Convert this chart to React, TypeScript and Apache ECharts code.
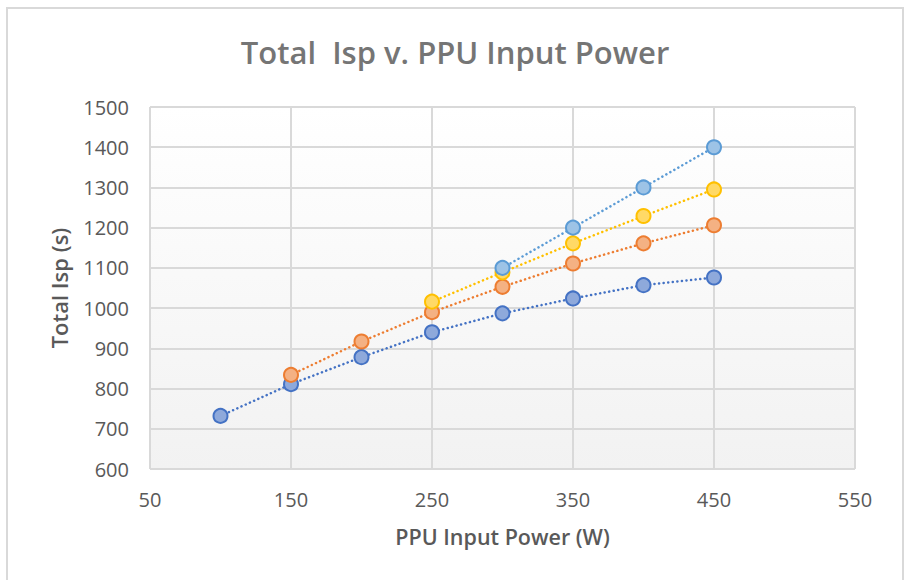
import React, { useEffect, useRef } from "react";
import * as echarts from "echarts";

const xValues = [100, 150, 200, 250, 300, 350, 400, 450];
const seriesNames = ["Series 1", "Series 2", "Series 3", "Series 4"];
// values aligned with xValues (null = no point)
const series1 = [732, 811, 878, 940, 987, 1024, 1057, 1076];
const series2 = [null, 834, 917, 990, 1053, 1111, 1161, 1206];
const series3 = [null, null, null, 1016, 1089, 1161, 1229, 1295];
const series4 = [null, null, null, null, 1100, 1200, 1300, 1400];
const lineColors = ["#4472C4", "#ED7D31", "#FFC000", "#5B9BD5"];
const fillColors = ["#8EA9DB", "#F4B183", "#FFD966", "#9DC3E6"];

const FONT = "'Open Sans', sans-serif";

export default function App() {
  const ref = useRef<HTMLDivElement>(null);
  useEffect(() => {
    if (!ref.current) return;
    const chart = echarts.init(ref.current, null, { renderer: "svg" });
    const all = [series1, series2, series3, series4];
    chart.setOption({
      animation: false,
      backgroundColor: "#ffffff",
      title: {
        text: "Total  Isp v. PPU Input Power",
        left: "center",
        top: 31,
        textStyle: { fontFamily: FONT, fontSize: 31, fontWeight: 600, color: "#757575" },
      },
      graphic: [
        {
          type: "rect",
          shape: { x: 7, y: 8, width: 896, height: 590 },
          style: { fill: "none", stroke: "#d9d9d9", lineWidth: 2 },
          silent: true,
        },
      ],
      grid: {
        left: 150,
        right: 55,
        top: 107,
        bottom: 111,
        show: true,
        borderWidth: 0,
        backgroundColor: new echarts.graphic.LinearGradient(0, 0, 0, 1, [
          { offset: 0, color: "#ffffff" },
          { offset: 1, color: "#f2f2f2" },
        ]),
      },
      xAxis: {
        type: "value",
        min: 50,
        max: 550,
        interval: 100,
        name: "PPU Input Power (W)",
        nameLocation: "middle",
        nameGap: 56,
        nameTextStyle: { fontFamily: FONT, fontSize: 21.5, fontWeight: 600, color: "#595959" },
        axisLine: { show: false },
        axisTick: { show: false },
        axisLabel: { fontFamily: FONT, fontSize: 20, color: "#595959", margin: 20, formatter: (v: number) => String(v) },
        splitLine: { show: true, lineStyle: { color: "#d9d9d9", width: 2 } },
      },
      yAxis: {
        type: "value",
        min: 600,
        max: 1500,
        interval: 100,
        name: "Total Isp (s)",
        nameLocation: "middle",
        nameGap: 80,
        nameTextStyle: { fontFamily: FONT, fontSize: 22, fontWeight: 600, color: "#595959" },
        axisLine: { show: false },
        axisTick: { show: false },
        axisLabel: { fontFamily: FONT, fontSize: 20, color: "#595959", margin: 21, formatter: (v: number) => String(v) },
        splitLine: { show: true, lineStyle: { color: "#d9d9d9", width: 2 } },
      },
      series: all.map((vals, i) => ({
        name: seriesNames[i],
        type: "line",
        data: xValues
          .map((x, j) => [x, vals[j]])
          .filter((p) => p[1] !== null),
        symbol: "circle",
        symbolSize: 14,
        lineStyle: { color: lineColors[i], width: 2.5, type: [0.1, 4.5], cap: "round" },
        itemStyle: { color: fillColors[i], borderColor: lineColors[i], borderWidth: 2 },
        z: 2 + i,
      })),
    });
    return () => chart.dispose();
  }, []);
  return (
    <div
      ref={ref}
      style={{ position: "fixed", left: 0, top: 0, width: 910, height: 580 }}
    />
  );
}
